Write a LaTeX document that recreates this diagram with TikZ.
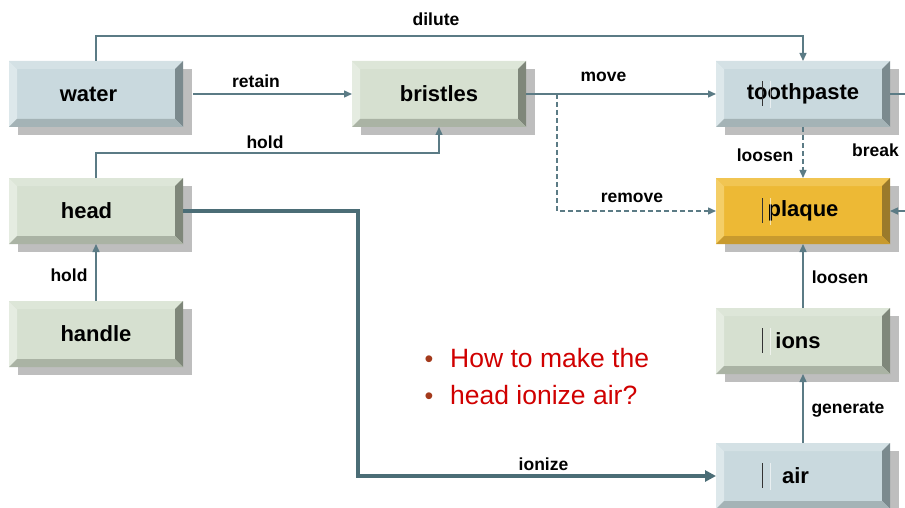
\documentclass[tikz,border=0pt]{standalone}
\usepackage{fontspec}
\setmainfont{Liberation Sans}
\usetikzlibrary{arrows.meta,shadows}

% palettes for the bevelled boxes: face, left, top, right, bottom
\definecolor{bFace}{HTML}{C9D9DE}\definecolor{bLeft}{HTML}{DDE8EB}
\definecolor{bTop}{HTML}{D4E1E5}\definecolor{bRight}{HTML}{7B8A8E}
\definecolor{bBottom}{HTML}{A4B3B6}
\definecolor{gFace}{HTML}{D6E0D0}\definecolor{gLeft}{HTML}{E5ECE1}
\definecolor{gTop}{HTML}{DDE6D8}\definecolor{gRight}{HTML}{7F877A}
\definecolor{gBottom}{HTML}{AAB3A4}
\definecolor{yFace}{HTML}{EDB935}\definecolor{yLeft}{HTML}{F4CE67}
\definecolor{yTop}{HTML}{F1C552}\definecolor{yRight}{HTML}{9A7A2B}
\definecolor{yBottom}{HTML}{C89A2E}
\definecolor{shadowgrey}{HTML}{BEBEBE}
\definecolor{wire}{HTML}{5B7B85}
\definecolor{wirebold}{HTML}{4B6D76}
\definecolor{askred}{HTML}{D00000}
\definecolor{bulletred}{HTML}{A33A1C}

\tikzset{
  bevelbox/.style n args={5}{
    minimum width=174pt, minimum height=66pt, inner sep=0pt, outer sep=0pt,
    font=\fontsize{22}{26}\selectfont\bfseries, text=black,
    general shadow={fill=shadowgrey, shadow xshift=9pt, shadow yshift=-8pt},
    fill=#1,
    path picture={
      \fill[#2] (path picture bounding box.south west) -- (path picture bounding box.north west)
        -- ([xshift=8pt,yshift=-8pt]path picture bounding box.north west)
        -- ([xshift=8pt,yshift=8pt]path picture bounding box.south west) -- cycle;
      \fill[#3] (path picture bounding box.north west) -- (path picture bounding box.north east)
        -- ([xshift=-8pt,yshift=-8pt]path picture bounding box.north east)
        -- ([xshift=8pt,yshift=-8pt]path picture bounding box.north west) -- cycle;
      \fill[#4] (path picture bounding box.north east) -- (path picture bounding box.south east)
        -- ([xshift=-8pt,yshift=8pt]path picture bounding box.south east)
        -- ([xshift=-8pt,yshift=-8pt]path picture bounding box.north east) -- cycle;
      \fill[#5] (path picture bounding box.south east) -- (path picture bounding box.south west)
        -- ([xshift=8pt,yshift=8pt]path picture bounding box.south west)
        -- ([xshift=-8pt,yshift=8pt]path picture bounding box.south east) -- cycle;
    }},
  bluebox/.style={bevelbox={bFace}{bLeft}{bTop}{bRight}{bBottom}},
  greenbox/.style={bevelbox={gFace}{gLeft}{gTop}{gRight}{gBottom}},
  goldbox/.style={bevelbox={yFace}{yLeft}{yTop}{yRight}{yBottom}},
  link/.style={draw=wire, line width=1.4pt, -{Triangle[length=8pt,width=7pt]}},
  dashlink/.style={link, dash pattern=on 5pt off 3pt},
  boldlink/.style={draw=wirebold, line width=4pt, -{Triangle[length=11pt,width=11pt]}},
  lbl/.style={font=\fontsize{17.5}{20}\selectfont\bfseries, anchor=base, inner sep=0pt, text=black},
  ask/.style={font=\fontsize{26.5}{30}\selectfont, anchor=base west, inner sep=0pt, text=askred},
  dot/.style={font=\fontsize{25}{30}\selectfont, anchor=base, inner sep=0pt, text=bulletred},
  caret/.style={draw=black!80, line width=0.8pt},
  caretlight/.style={draw=white, line width=0.8pt, opacity=0.6},
}

\begin{document}
\begin{tikzpicture}[x=1pt,y=-1pt]
\useasboundingbox (0,0) rectangle (905,508);
\clip (0,0) rectangle (905,508);

% boxes
\node[bluebox]  (water)      at (96,94)   {water\hspace*{15pt}};
\node[greenbox] (bristles)   at (439,94)  {bristles};
\node[bluebox]  (toothpaste) at (803,94)  {toothpaste};
\node[greenbox] (head)       at (96,211)  {head\hspace*{19pt}};
\node[greenbox] (handle)     at (96,334)  {handle};
\node[goldbox]  (plaque)     at (803,211) {plaque};
\node[greenbox] (ions)       at (803,341) {ions\hspace*{10pt}};
\node[bluebox]  (air)        at (803,476) {air\hspace*{15pt}};

% thin text cursors left in some boxes
\foreach \n in {toothpaste,plaque,ions,air}{
  \draw[caret] ([xshift=-41pt,yshift=13pt]\n.center) -- ([xshift=-41pt,yshift=-12pt]\n.center);
  \draw[caretlight] ([xshift=-33pt,yshift=13pt]\n.center) -- ([xshift=-33pt,yshift=-14pt]\n.center);
}

% connectors
\coordinate (split) at (557,94);
\draw[link, shorten <=10pt] (water.east) -- (bristles.west);
\draw[link] (water.north) -- ++(0,-25) -| (toothpaste.north);
\draw[link] (head.north) -- ++(0,-25) -| (bristles.south);
\draw[link] (handle.north) -- (head.south);
\draw[link] (bristles.east) -- (toothpaste.west);
\draw[dashlink] (split) |- (plaque.west);
\draw[dashlink] (toothpaste.south) -- (plaque.north);
\draw[link] (toothpaste.east) -- ++(40,0) |- (plaque.east);
\draw[link] (ions.north) -- (plaque.south);
\draw[link] (air.north) -- (ions.south);
\draw[boldlink] (head.east) -- ++(175,0) |- (air.west);

% connector labels
\node[lbl] (tdilute)   at (436,25.5)  {dilute};
\node[lbl] (tretain)   at (256,88)    {retain};
\node[lbl] (tholdtop)  at (265,149)   {hold};
\node[lbl] (tmove)     at (603.5,81.5){move};
\node[lbl] (tremove)   at (632,202.5) {remove};
\node[lbl] (tloosenA)  at (765,161)   {loosen};
\node[lbl, anchor=base west] (tbreak) at (852,157) {break};
\node[lbl] (tholdlow)  at (69,281.5)  {hold};
\node[lbl] (tloosenB)  at (840,283)   {loosen};
\node[lbl] (tgenerate) at (848,413)   {generate};
\node[lbl] (tionize)   at (543.5,470) {ionize};

% question
\node[dot] (b1) at (429,367) {•};
\node[dot] (b2) at (429,404) {•};
\node[ask] (q1) at (450,367) {How to make the};
\node[ask] (q2) at (450,404) {head ionize air?};
\end{tikzpicture}
\end{document}
